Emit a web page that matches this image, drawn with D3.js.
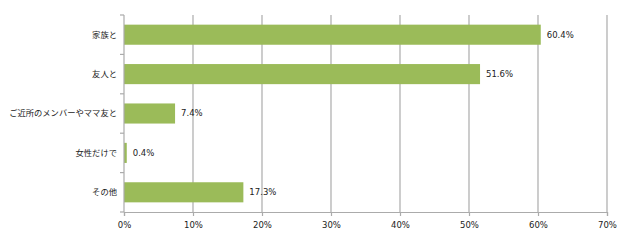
<!DOCTYPE html>
<html>
<head>
<meta charset="utf-8">
<script src="https://cdn.jsdelivr.net/npm/d3@7"></script>
<style>
  body { margin: 0; background: #fff; }
  text { font-family: "Noto Sans CJK JP", "DejaVu Sans", sans-serif; fill: #222; }
</style>
</head>
<body>
<svg id="chart"></svg>
<script>
// data
const categories = ['家族と', '友人と', 'ご近所のメンバーやママ友と', '女性だけで', 'その他'];
const values = [60.4, 51.6, 7.4, 0.4, 17.3];
const tickValues = [0, 10, 20, 30, 40, 50, 60, 70];

const width = 640, height = 244;
const margin = {top: 15, right: 33, bottom: 32, left: 124};

const svg = d3.select('#chart')
    .attr('width', width)
    .attr('height', height);

const x = d3.scaleLinear()
    .domain([0, 70])
    .range([margin.left, width - margin.right]);

const y = d3.scaleBand()
    .domain(categories)
    .range([margin.top, height - margin.bottom])
    .paddingInner(0.49)
    .paddingOuter(0.245);

const gridColor = '#ababab';

// gridlines
svg.append('g')
    .selectAll('line')
    .data(tickValues.slice(1))
    .enter()
    .append('line')
    .attr('x1', d => x(d))
    .attr('x2', d => x(d))
    .attr('y1', margin.top)
    .attr('y2', height - margin.bottom)
    .attr('stroke', gridColor)
    .attr('stroke-width', 1.2);

// bars
svg.append('g')
    .selectAll('rect')
    .data(values)
    .enter()
    .append('rect')
    .attr('x', x(0))
    .attr('y', (d, i) => y(categories[i]))
    .attr('width', d => x(d) - x(0))
    .attr('height', y.bandwidth())
    .attr('fill', '#9bbb59');

// value labels
svg.append('g')
    .selectAll('text')
    .data(values)
    .enter()
    .append('text')
    .attr('x', d => x(d) + 6)
    .attr('y', (d, i) => y(categories[i]) + y.bandwidth() / 2)
    .attr('dy', '0.35em')
    .attr('font-size', 8.5)
    .style('font-family', '"DejaVu Sans", sans-serif')
    .text(d => d.toFixed(1) + '%');

// x axis
const xAxis = d3.axisBottom(x)
    .tickValues(tickValues)
    .tickSize(4)
    .tickPadding(6)
    .tickFormat(d => d + '%');

const gx = svg.append('g')
    .attr('transform', `translate(0,${height - margin.bottom})`)
    .call(xAxis);
gx.select('.domain').attr('stroke', gridColor).attr('stroke-width', 1.2);
gx.selectAll('.tick line').attr('stroke', gridColor).attr('stroke-width', 1.2);
gx.selectAll('.tick text').attr('font-size', 8.5).attr('fill', '#222')
    .style('font-family', '"DejaVu Sans", sans-serif');

// y axis: ticks at category boundaries
const yTop = margin.top, yBot = height - margin.bottom;
svg.append('line')
    .attr('x1', x(0)).attr('x2', x(0))
    .attr('y1', yTop).attr('y2', yBot)
    .attr('stroke', gridColor).attr('stroke-width', 1.2);

svg.append('g')
    .selectAll('line')
    .data(d3.range(categories.length + 1))
    .enter()
    .append('line')
    .attr('x1', x(0) - 4)
    .attr('x2', x(0))
    .attr('y1', i => yTop + i * (yBot - yTop) / categories.length)
    .attr('y2', i => yTop + i * (yBot - yTop) / categories.length)
    .attr('stroke', gridColor)
    .attr('stroke-width', 1.2);

// category labels
svg.append('g')
    .selectAll('text')
    .data(categories)
    .enter()
    .append('text')
    .attr('x', x(0) - 7)
    .attr('y', d => y(d) + y.bandwidth() / 2)
    .attr('dy', '0.35em')
    .attr('text-anchor', 'end')
    .attr('font-size', 8.3)
    .text(d => d);
</script>
</body>
</html>
